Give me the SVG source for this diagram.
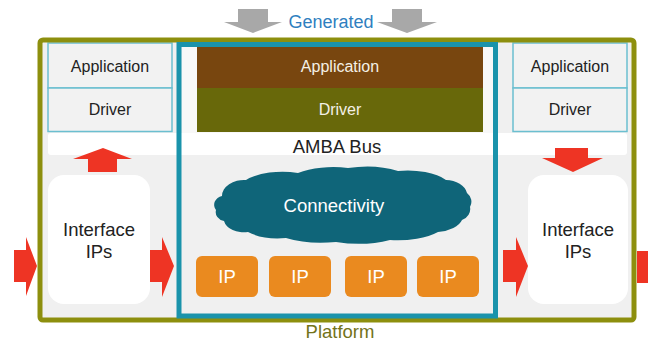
<svg xmlns="http://www.w3.org/2000/svg" width="648" height="342" viewBox="0 0 648 342">
<style>
text{font-family:"Liberation Sans",Arial,sans-serif;text-anchor:middle}
.t16{font-size:16px;fill:#222}
.t18{font-size:18.5px;fill:#222}
.w16{font-size:16px;fill:#f4f0e6}
.w18{font-size:18.5px;fill:#ffffff}
.side{fill:#f2f2f2;stroke:#6bbfd0;stroke-width:1.5}
.ipbox{fill:#ea8a1f}
.red{fill:#ee3424}
.gray{fill:#a8a8a8}
.iface{fill:#ffffff}
</style>
<rect width="648" height="342" fill="#ffffff"/>
<!-- platform background -->
<rect x="40" y="40" width="594" height="280" fill="#f0f0f0"/>
<rect x="48" y="133" width="579" height="22" rx="3" fill="#ffffff"/>
<rect x="182" y="47" width="311" height="86" fill="#f8f8f8"/>

<g id="connectors">
  <!-- gray generated arrows -->
  <polygon class="gray" points="238,9 268,9 268,22 282,22 253,33 224,22 238,22"/>
  <polygon class="gray" points="392,9 422,9 422,22 437,22 407,33 377,22 392,22"/>
  <!-- left up arrow -->
  <polygon class="red" points="103,148 132,159 117,159 117,172 88,172 88,159 73,159"/>
  <!-- right down arrow -->
  <polygon class="red" points="555,148 588,148 588,158 603,158 573,172 542,158 555,158"/>
  <!-- horizontal arrows -->
  <polygon class="red" points="14,250 26,250 26,237 37,266 26,296 26,282 14,282"/>
  <polygon class="red" points="150,250 162,250 162,237 174,266 162,297 162,282 150,282"/>
  <polygon class="red" points="503,250 516,250 516,237 528,266 516,297 516,282 503,282"/>
  <polygon class="red" points="637,251 648,251 648,283 637,283"/>
</g>

<g id="generated-label"><text x="331" y="28" style="font-size:18px;fill:#2f7fc0">Generated</text></g>

<g id="left-application"><rect class="side" x="48" y="43" width="124" height="45"/><text class="t16" x="110" y="72">Application</text></g>
<g id="left-driver"><rect class="side" x="48" y="88" width="124" height="43.5"/><text class="t16" x="110" y="115">Driver</text></g>

<g id="right-application"><rect class="side" x="513" y="43" width="114" height="45"/><text class="t16" x="570" y="72">Application</text></g>
<g id="right-driver"><rect class="side" x="513" y="88" width="114" height="43.5"/><text class="t16" x="570" y="115">Driver</text></g>

<g id="center-application"><rect x="197" y="47" width="286" height="41" fill="#78460f"/><text class="w16" x="340" y="72">Application</text></g>
<g id="center-driver"><rect x="197" y="88" width="286" height="44" fill="#68680a"/><text class="w16" x="340" y="115">Driver</text></g>

<g id="amba-bus"><text class="t18" x="337" y="153">AMBA Bus</text></g>

<g id="left-interface"><rect class="iface" x="48" y="175" width="102" height="129" rx="16"/><text class="t18" x="99" y="236">Interface</text><text class="t18" x="99" y="258">IPs</text></g>
<g id="right-interface"><rect class="iface" x="528" y="175" width="100" height="129" rx="16"/><text class="t18" x="578" y="236">Interface</text><text class="t18" x="578" y="258">IPs</text></g>

<g id="connectivity">
  <path fill="#0f6579" d="M222 196 A22 16 0 0 1 246 180 A45 20 0 0 1 298 173 A50 20 0 0 1 348 168 A50 20 0 0 1 398 171 A45 20 0 0 1 446 180 A22 16 0 0 1 467 193 A14 12 0 0 1 470 207 A14 12 0 0 1 462 220 A30 16 0 0 1 438 232 A50 20 0 0 1 390 240 A55 20 0 0 1 336 242 A55 20 0 0 1 286 238 A40 18 0 0 1 248 232 A20 14 0 0 1 224 221 A10 9 0 0 1 216 210 A10 9 0 0 1 222 196 Z"/>
  <text class="w18" x="334" y="212">Connectivity</text>
</g>

<g id="ip1"><rect class="ipbox" x="196" y="256" width="62" height="41" rx="6"/><text class="w18" x="227" y="283">IP</text></g>
<g id="ip2"><rect class="ipbox" x="269" y="256" width="62" height="41" rx="6"/><text class="w18" x="300" y="283">IP</text></g>
<g id="ip3"><rect class="ipbox" x="345" y="256" width="62" height="41" rx="6"/><text class="w18" x="376" y="283">IP</text></g>
<g id="ip4"><rect class="ipbox" x="417" y="256" width="62" height="41" rx="6"/><text class="w18" x="448" y="283">IP</text></g>

<g id="platform">
  <rect x="40" y="40" width="594" height="280" rx="3" fill="none" stroke="#8d8f0e" stroke-width="5"/>
  <text x="340" y="338" style="font-size:18.5px;fill:#73731a">Platform</text>
</g>
<g id="amba-frame">
  <rect x="179" y="44.5" width="316.5" height="271.5" fill="none" stroke="#1a93ab" stroke-width="5"/>
</g>
</svg>
